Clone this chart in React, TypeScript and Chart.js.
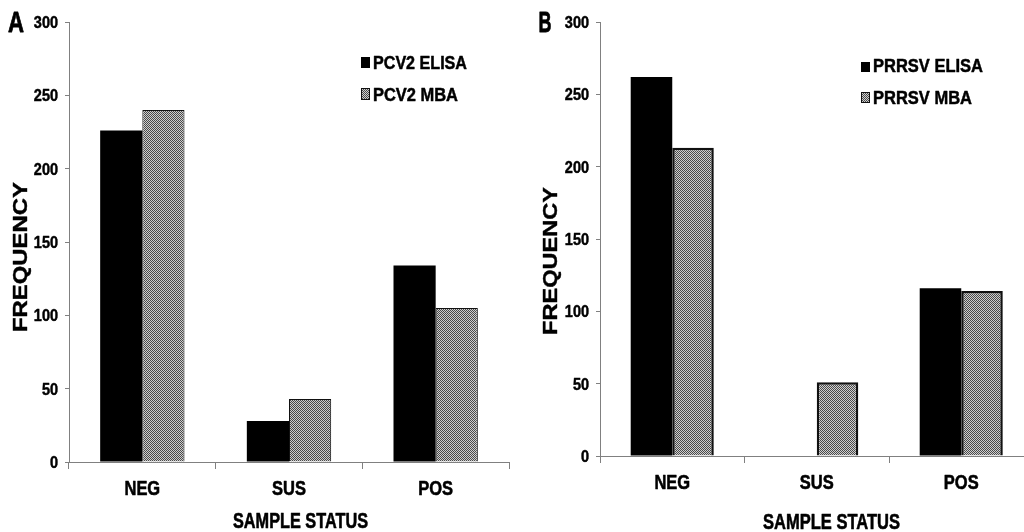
import React, { useEffect, useRef } from "react";
import { Chart, registerables } from "chart.js";
Chart.register(...registerables);

const categories = ["NEG", "SUS", "POS"];
const pcv2Elisa = [226, 28, 134];
const pcv2Mba = [240, 43, 105];
const prrsvElisa = [262, 0, 116];
const prrsvMba = [213, 51, 114];
const yMin = 0;
const yMax = 300;
const yStep = 50;
const legendA = ["PCV2 ELISA", "PCV2 MBA"];
const legendB = ["PRRSV ELISA", "PRRSV MBA"];
const yTitle = "FREQUENCY";
const xTitle = "SAMPLE STATUS";

const FAMILY = '"Liberation Sans", Arial, sans-serif';

function makePattern(): CanvasPattern | string {
  const c = document.createElement("canvas");
  c.width = 2;
  c.height = 2;
  const g = c.getContext("2d");
  if (!g) return "#888";
  g.fillStyle = "#cfcfcf";
  g.fillRect(0, 0, 2, 2);
  g.fillStyle = "#4a4a4a";
  g.fillRect(0, 0, 1, 1);
  g.fillRect(1, 1, 1, 1);
  return g.createPattern(c, "repeat") || "#888";
}

// draw bold text with a given cap height; horizontal size given by target width or x-scale
function fitText(
  ctx: CanvasRenderingContext2D,
  text: string,
  x: number,
  cy: number,
  cap: number,
  opts: { width?: number; sx?: number; align?: CanvasTextAlign; rotate?: boolean; stroke?: number }
) {
  ctx.save();
  ctx.font = `bold 100px ${FAMILY}`;
  const ratio = ctx.measureText("H").actualBoundingBoxAscent / 100 || 0.716;
  const size = cap / ratio;
  ctx.font = `bold ${size}px ${FAMILY}`;
  const w = ctx.measureText(text).width;
  const sx = opts.width ? opts.width / w : opts.sx || 1;
  ctx.translate(x, cy);
  if (opts.rotate) ctx.rotate(-Math.PI / 2);
  ctx.scale(sx, 1);
  ctx.fillStyle = "#000";
  ctx.strokeStyle = "#000";
  ctx.lineJoin = "round";
  ctx.textAlign = opts.align || "center";
  ctx.textBaseline = "alphabetic";
  ctx.fillText(text, 0, cap / 2);
  const sw = opts.stroke ?? 0.6;
  if (sw > 0) {
    ctx.lineWidth = sw;
    ctx.strokeText(text, 0, cap / 2);
  }
  ctx.restore();
}

type TextSpec = { cx: number; cy: number; cap: number; w: number };
type PanelSpec = {
  letter: string;
  letterPos: TextSpec;
  yTitlePos: TextSpec;
  xTitlePos: TextSpec;
  legend: string[];
  legendBoxes: { x: number; y: number; w: number; h: number }[];
  legendTexts: TextSpec[];
  elisa: number[];
  mba: number[];
  mbaBorder: number;
  left: number;
  yWidth: number;
  rightPad: number;
  topPad: number;
  xHeight: number;
  xLabelCy: number;
};

function Panel({ spec }: { spec: PanelSpec }) {
  const ref = useRef<HTMLCanvasElement>(null);
  useEffect(() => {
    const canvas = ref.current;
    if (!canvas) return;
    const pattern = makePattern();
    const overlay = {
      id: "overlay",
      afterDraw(chart: any) {
        const ctx: CanvasRenderingContext2D = chart.ctx;
        const ys = chart.scales.y;
        const xs = chart.scales.x;
        // y tick labels
        ys.ticks.forEach((t: any) => {
          const py = ys.getPixelForValue(t.value);
          fitText(ctx, String(t.label), chart.chartArea.left - 11, py, 11.8, { sx: 0.86, align: "right", stroke: 0.5 });
        });
        // x tick labels
        categories.forEach((c, i) => {
          const px = xs.getPixelForValue(i);
          fitText(ctx, c, px, spec.xLabelCy, 14.8, { sx: 0.78, align: "center" });
        });
        const L = spec.letterPos;
        fitText(ctx, spec.letter, L.cx, L.cy, L.cap, { width: L.w, stroke: 0.8 });
        const Y = spec.yTitlePos;
        fitText(ctx, yTitle, Y.cx, Y.cy, Y.cap, { width: Y.w, rotate: true, stroke: 0.4 });
        const X = spec.xTitlePos;
        fitText(ctx, xTitle, X.cx, X.cy, X.cap, { width: X.w });
        spec.legendBoxes.forEach((b, i) => {
          ctx.save();
          if (i === 0) {
            ctx.fillStyle = "#000";
            ctx.fillRect(b.x, b.y, b.w, b.h);
          } else {
            ctx.fillStyle = pattern as any;
            ctx.fillRect(b.x, b.y, b.w, b.h);
            ctx.strokeStyle = "#111";
            ctx.lineWidth = 1;
            ctx.strokeRect(b.x + 0.5, b.y + 0.5, b.w - 1, b.h - 1);
          }
          ctx.restore();
          const t = spec.legendTexts[i];
          fitText(ctx, spec.legend[i], t.cx, t.cy, t.cap, { width: t.w, align: "left", stroke: 0.5 });
        });
      },
    };
    const chart = new Chart(canvas, {
      type: "bar",
      data: {
        labels: categories,
        datasets: [
          {
            label: spec.legend[0],
            data: spec.elisa,
            backgroundColor: "#000",
            borderWidth: 0,
            barPercentage: 1,
            categoryPercentage: 0.575,
          },
          {
            label: spec.legend[1],
            data: spec.mba,
            backgroundColor: pattern as any,
            borderColor: "#111",
            borderWidth: spec.mbaBorder,
            barPercentage: 1,
            categoryPercentage: 0.575,
          },
        ],
      },
      options: {
        responsive: false,
        animation: false,
        devicePixelRatio: 1,
        layout: { padding: { left: 0, top: spec.topPad, right: spec.rightPad, bottom: 0 } },
        plugins: { legend: { display: false }, tooltip: { enabled: false }, title: { display: false } },
        scales: {
          x: {
            type: "category",
            offset: true,
            grid: {
              display: true,
              offset: true,
              drawOnChartArea: false,
              drawTicks: true,
              tickLength: 7,
              color: "#808080",
              lineWidth: 1,
            },
            border: { display: true, color: "#808080", width: 1 },
            ticks: {
              color: "rgba(0,0,0,0)",
              padding: 6,
              font: { family: FAMILY, size: 16, weight: "bold" },
            },
            afterFit: (s: any) => {
              s.height = spec.xHeight;
            },
          },
          y: {
            min: yMin,
            max: yMax,
            grid: {
              display: true,
              drawOnChartArea: false,
              drawTicks: true,
              tickLength: 4,
              color: "#808080",
              lineWidth: 1,
            },
            border: { display: true, color: "#808080", width: 1 },
            ticks: {
              stepSize: yStep,
              color: "rgba(0,0,0,0)",
              padding: 7,
              font: { family: FAMILY, size: 14, weight: "bold" },
            },
            afterFit: (s: any) => {
              s.width = spec.yWidth;
            },
          },
        },
      } as any,
      plugins: [overlay],
    });
    return () => chart.destroy();
  }, [spec]);
  return (
    <canvas
      ref={ref}
      width={520}
      height={532}
      style={{ position: "absolute", left: spec.left, top: 0, width: 520, height: 532 }}
    />
  );
}

const specA: PanelSpec = {
  letter: "A",
  letterPos: { cx: 16, cy: 21, cap: 21, w: 16 },
  yTitlePos: { cx: 20, cy: 257, cap: 14, w: 150 },
  xTitlePos: { cx: 300.5, cy: 520.5, cap: 15, w: 135 },
  legend: legendA,
  legendBoxes: [
    { x: 361, y: 57, w: 9, h: 11 },
    { x: 361, y: 88, w: 9, h: 12 },
  ],
  legendTexts: [
    { cx: 373, cy: 63, cap: 12.6, w: 94 },
    { cx: 373, cy: 94.5, cap: 12.6, w: 85 },
  ],
  elisa: pcv2Elisa,
  mba: pcv2Mba,
  mbaBorder: 1,
  left: 0,
  yWidth: 69,
  rightPad: 11,
  topPad: 22,
  xHeight: 70,
  xLabelCy: 487.5,
};

const specB: PanelSpec = {
  letter: "B",
  letterPos: { cx: 25, cy: 21, cap: 21, w: 13 },
  yTitlePos: { cx: 30, cy: 261, cap: 14, w: 148 },
  xTitlePos: { cx: 311.5, cy: 521.5, cap: 15.5, w: 137 },
  legend: legendB,
  legendBoxes: [
    { x: 341, y: 62, w: 9, h: 10 },
    { x: 341, y: 92, w: 9, h: 11 },
  ],
  legendTexts: [
    { cx: 353, cy: 65.5, cap: 13, w: 110 },
    { cx: 353, cy: 97.5, cap: 13, w: 99 },
  ],
  elisa: prrsvElisa,
  mba: prrsvMba,
  mbaBorder: 2.5,
  left: 520,
  yWidth: 80,
  rightPad: 6.5,
  topPad: 22,
  xHeight: 76,
  xLabelCy: 481.7,
};

export default function App() {
  return (
    <div
      style={{
        position: "fixed",
        left: 0,
        top: 0,
        width: 1024,
        height: 532,
        overflow: "hidden",
        background: "#fff",
      }}
    >
      <Panel spec={specA} />
      <Panel spec={specB} />
    </div>
  );
}
